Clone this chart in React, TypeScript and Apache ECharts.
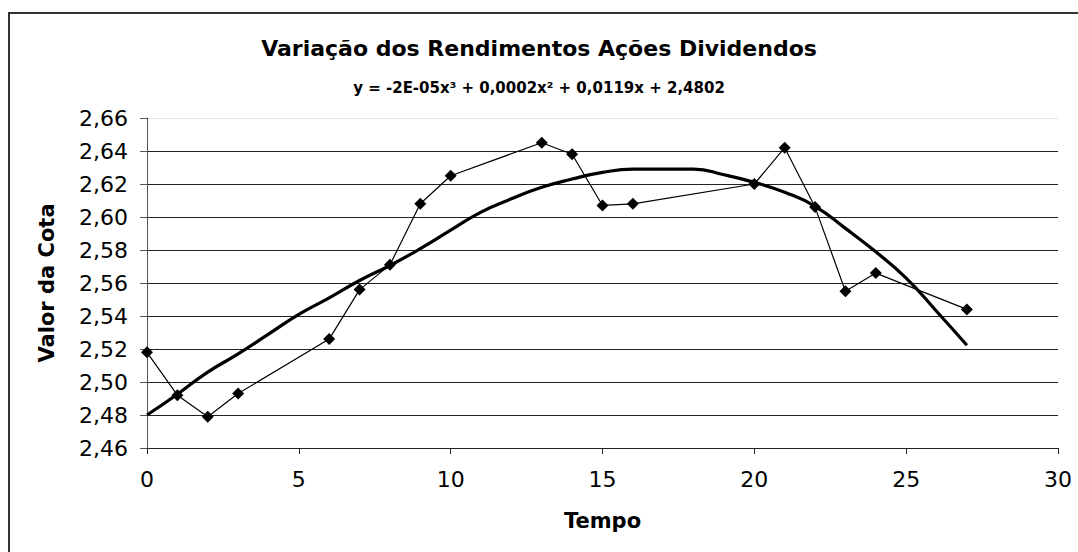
import React, { useEffect, useRef } from "react";
import * as echarts from "echarts";

const titleText = "Variação dos Rendimentos Ações Dividendos";
const equationText = "y = -2E-05x³ + 0,0002x² + 0,0119x + 2,4802";
const xAxisName = "Tempo";
const yAxisName = "Valor da Cota";

// observed points
const tempo = [0, 1, 2, 3, 6, 7, 8, 9, 10, 13, 14, 15, 16, 20, 21, 22, 23, 24, 27];
const valor = [2.518, 2.492, 2.479, 2.493, 2.526, 2.556, 2.571, 2.608, 2.625, 2.645, 2.638, 2.607, 2.608, 2.620, 2.642, 2.606, 2.555, 2.566, 2.544];

// polynomial trend line
const trendX = [0, 1, 2, 3, 4, 5, 6, 7, 8, 9, 10, 11, 12, 13, 14, 15, 16, 17, 18, 19, 20, 21, 22, 23, 24, 25, 26, 27];
const trendY = [2.480, 2.4926, 2.506, 2.517, 2.529, 2.541, 2.551, 2.5615, 2.5706, 2.5808, 2.592, 2.603, 2.611, 2.618, 2.623, 2.627, 2.629, 2.629, 2.629, 2.6256, 2.621, 2.615, 2.6065, 2.5931, 2.5789, 2.563, 2.5429, 2.5223];

const FONT = "DejaVu Sans";

export default function App() {
  const ref = useRef<HTMLDivElement>(null);
  useEffect(() => {
    if (!ref.current) return;
    const chart = echarts.init(ref.current, null, { renderer: "svg" });
    const gridColors = ["#222", "#222", "#222", "#222", "#222", "#222", "#222", "#222", "#222", "#222", "#e6e6e6"];
    chart.setOption({
      animation: false,
      backgroundColor: "#fff",
      title: [
        {
          text: titleText,
          left: "center",
          top: 32,
          textStyle: { fontFamily: FONT, fontWeight: "bold", fontSize: 22, color: "#000" },
        },
        {
          text: equationText,
          left: "center",
          top: 75,
          textStyle: { fontFamily: FONT, fontWeight: "bold", fontSize: 15, color: "#000" },
        },
      ],
      graphic: [
        {
          type: "rect",
          shape: { x: 9, y: 13, width: 1100, height: 600 },
          style: { fill: "none", stroke: "#333", lineWidth: 2 },
          silent: true,
        },
      ],
      grid: { left: 147, right: 20, top: 118, bottom: 104, containLabel: false },
      xAxis: {
        type: "value",
        min: 0,
        max: 30,
        interval: 5,
        name: xAxisName,
        nameLocation: "middle",
        nameGap: 62,
        nameTextStyle: { fontFamily: FONT, fontWeight: "bold", fontSize: 21, color: "#000" },
        axisLine: { show: true, lineStyle: { color: "#222", width: 1 } },
        axisTick: { show: true, length: 6, lineStyle: { color: "#222" } },
        axisLabel: { fontFamily: FONT, fontSize: 22, color: "#000", margin: 20 },
        splitLine: { show: false },
      },
      yAxis: {
        type: "value",
        min: 2.46,
        max: 2.66,
        interval: 0.02,
        name: yAxisName,
        nameLocation: "middle",
        nameGap: 90,
        nameTextStyle: { fontFamily: FONT, fontWeight: "bold", fontSize: 21, color: "#000" },
        axisLine: { show: true, lineStyle: { color: "#555", width: 1 } },
        axisTick: { show: true, length: 7, lineStyle: { color: "#555" } },
        axisLabel: {
          fontFamily: FONT,
          fontSize: 22,
          color: "#000",
          margin: 19,
          formatter: (v: number) => v.toFixed(2).replace(".", ","),
        },
        splitLine: { show: true, lineStyle: { color: gridColors, width: 1 } },
      },
      series: [
        {
          type: "line",
          name: "Valor",
          data: tempo.map((t, i) => [t, valor[i]]),
          symbol: "diamond",
          symbolSize: 12,
          itemStyle: { color: "#000" },
          lineStyle: { color: "#000", width: 1.2 },
          z: 3,
        },
        {
          type: "line",
          name: "Tendência",
          data: trendX.map((t, i) => [t, trendY[i]]),
          symbol: "none",
          smooth: true,
          lineStyle: { color: "#000", width: 3.2 },
          z: 2,
        },
      ],
    });
    return () => chart.dispose();
  }, []);
  return (
    <div
      ref={ref}
      style={{ position: "fixed", left: 0, top: 0, width: 1078, height: 552, background: "#fff" }}
    />
  );
}
